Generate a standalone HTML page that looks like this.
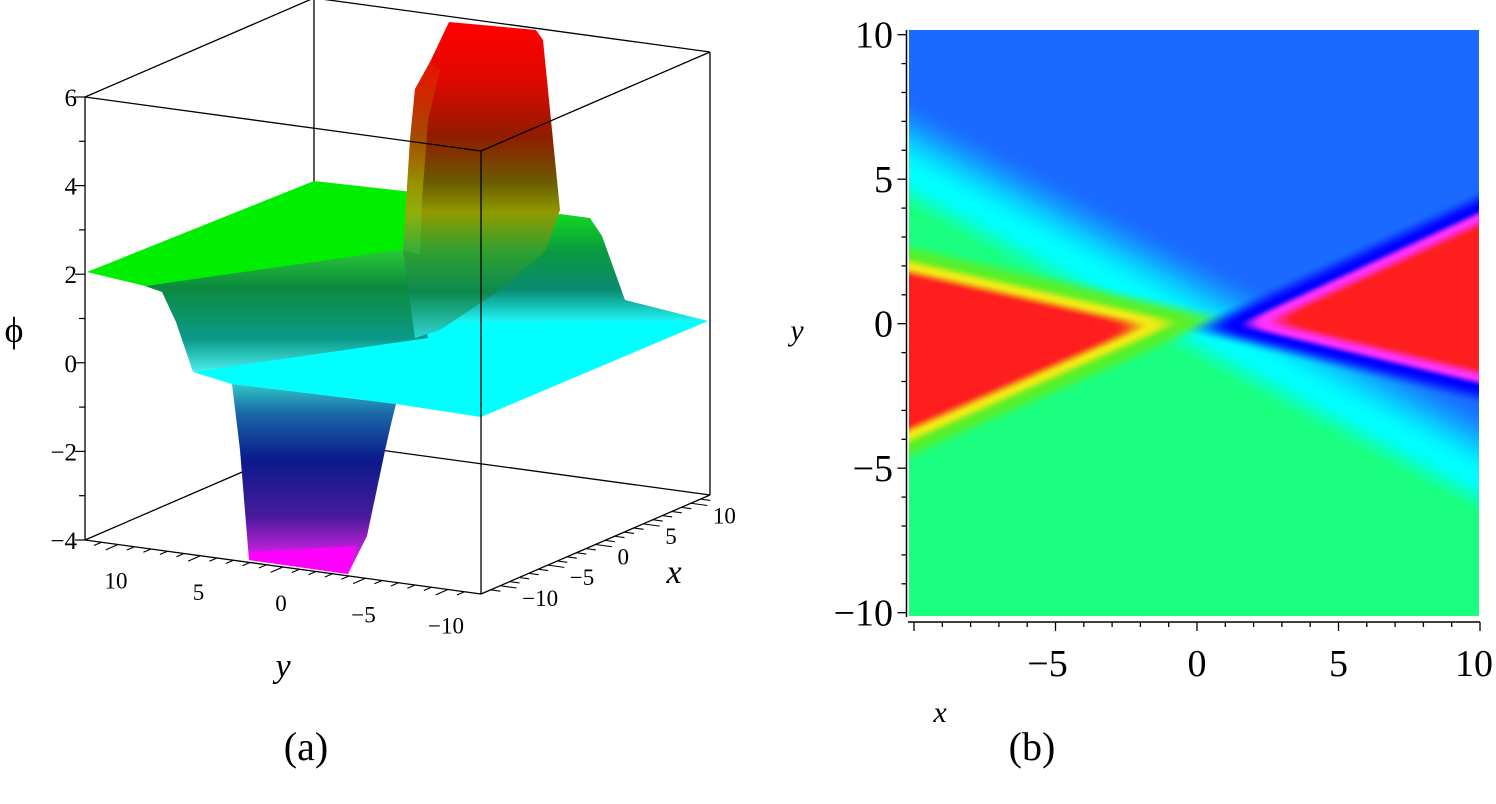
<!DOCTYPE html>
<html><head><meta charset="utf-8"><style>
html,body{margin:0;padding:0;background:#fff;}
#wrap{position:relative;width:1496px;height:804px;overflow:hidden;background:#fff;font-family:"Liberation Serif",serif;}
svg{position:absolute;left:0;top:0;}
#heat{position:absolute;left:909px;top:30px;}
</style></head><body>
<div id="wrap">
<svg id="left" width="1496" height="804">
<defs>
<linearGradient id="gStep" gradientUnits="userSpaceOnUse" x1="0" y1="250" x2="0" y2="374">
<stop offset="0" stop-color="#28c838"/><stop offset="0.3" stop-color="#0c8a3c"/><stop offset="0.72" stop-color="#0b9a8a"/><stop offset="1" stop-color="#50f4f4"/></linearGradient>
<linearGradient id="gRight" gradientUnits="userSpaceOnUse" x1="0" y1="214" x2="0" y2="322">
<stop offset="0" stop-color="#10d820"/><stop offset="0.35" stop-color="#0a9a40"/><stop offset="0.7" stop-color="#0a8a70"/><stop offset="1" stop-color="#20f8f8"/></linearGradient>
<linearGradient id="gWell" gradientUnits="userSpaceOnUse" x1="0" y1="384" x2="0" y2="574">
<stop offset="0" stop-color="#30c8c8"/><stop offset="0.15" stop-color="#1a6aa8"/><stop offset="0.4" stop-color="#0a1a8a"/><stop offset="0.7" stop-color="#4a1a9c"/><stop offset="0.88" stop-color="#c020d8"/><stop offset="1" stop-color="#ff10ff"/></linearGradient>
<linearGradient id="gPeak" gradientUnits="userSpaceOnUse" x1="0" y1="22" x2="0" y2="340">
<stop offset="0" stop-color="#ff0000"/><stop offset="0.18" stop-color="#e00800"/><stop offset="0.36" stop-color="#901c00"/><stop offset="0.5" stop-color="#6a5a00"/><stop offset="0.6" stop-color="#909a00"/><stop offset="0.72" stop-color="#30a030"/><stop offset="0.85" stop-color="#0c8a50"/><stop offset="1" stop-color="#30d8d8"/></linearGradient>
<linearGradient id="gPeakL" gradientUnits="userSpaceOnUse" x1="0" y1="60" x2="0" y2="250">
<stop offset="0" stop-color="#e02000"/><stop offset="0.4" stop-color="#c08000"/><stop offset="0.65" stop-color="#d0d000"/><stop offset="1" stop-color="#40c040"/></linearGradient>
</defs>
<g id="backbox"></g>
<g id="surface">
<polygon fill="#00ffff" points="193,372 232,384 396,404 481,417 708,321 420,320 410,339"/>
<polygon fill="url(#gRight)" points="430,255 560,214 590,218 602,236 625,300 708,321 420,322"/>
<polygon fill="#00ee00" points="87,272 314,181 412,192 408,250 145,286"/>
<polygon fill="url(#gStep)" points="145,286 412,248 428,338 193,372 176,322 162,292"/>
<polygon fill="url(#gWell)" points="232,384 396,404 392,420 386,446 367,536 348,574 249,560 240,450"/>
<polygon fill="#ff00ff" points="249,552 356,546 348,574 249,560"/>
<polygon fill="url(#gPeak)" points="449,22 536,30 543,40 552,130 560,210 546,250 500,290 440,330 415,338 403,250 410,140 415,89 430,62"/>
<polygon fill="url(#gPeakL)" opacity="0.45" points="403,250 410,140 415,89 430,62 440,70 428,120 422,200 420,255"/>
</g>
<g id="frontbox"></g>
<g id="axes3d"></g>
<text x="14" y="342" font-size="36" text-anchor="middle">ϕ</text>
<text x="283" y="677" font-size="34" font-style="italic" text-anchor="middle">y</text>
<text x="674" y="583" font-size="34" font-style="italic" text-anchor="middle">x</text>
<text x="306" y="760" font-size="40" text-anchor="middle">(a)</text>
<text x="1032" y="760" font-size="40" text-anchor="middle">(b)</text>
<g id="axes2d"></g>
<text x="940" y="722" font-size="30" font-style="italic" text-anchor="middle">x</text>
<text x="797" y="340" font-size="30" font-style="italic" text-anchor="middle">y</text>
</svg>
<canvas id="heat" width="570" height="586"></canvas>
</div>
<script>
// ---- 3D panel data ----
const xRange3d = [-12, 12];
const yRange3d = [-12, 12];
const zRange3d = [-4, 6];
const zTicks3d = [-4, -2, 0, 2, 4, 6];
const xTicks3d = [-10, -5, 0, 5, 10];
const yTicks3d = [-10, -5, 0, 5, 10];
// ---- density panel data ----
const xTicks2d = [-5, 0, 5, 10];
const yTicks2d = [-10, -5, 0, 5, 10];
const diagYAtEnds = [5.1, -5.4];        // cyan ridge y at x=-10 and x=10
const leftApex = [-1.2, 0];
const leftEdgeYAtMinX = [1.94, -3.8];   // upper / lower wedge edges at x=-10
const rightApex = [1.9, 0];
const rightEdgeYAtMaxX = [3.68, -1.9];  // upper / lower wedge edges at x=10

const NS = 'http://www.w3.org/2000/svg';
function mk(tag, attrs, parent) {
  const e = document.createElementNS(NS, tag);
  for (const k in attrs) e.setAttribute(k, attrs[k]);
  parent.appendChild(e); return e;
}
function minus(v) { return v < 0 ? '\u2212' + Math.abs(v) : String(v); }

const O = [397.5, 340.3], EX = [9.54, -4.125], EY = [-16.5, -2.25], EZ = [0, -44.3];
function P(x, y, z) { return [O[0] + x * EX[0] + y * EY[0] + z * EZ[0], O[1] + x * EX[1] + y * EY[1] + z * EZ[1]]; }

const back = document.getElementById('backbox');
const front = document.getElementById('frontbox');
const [x0, x1] = xRange3d, [y0, y1] = yRange3d, [z0, z1] = zRange3d;
function edge(a, b, parent, name) {
  const p = P(...a), q = P(...b);
  const l = mk('line', { x1: p[0], y1: p[1], x2: q[0], y2: q[1], stroke: '#000', 'stroke-width': 1.3 }, parent);
  
  
}
edge([x1, y1, z0], [x1, y1, z1], back, 'box-edge-back-vertical');
edge([x1, y1, z0], [x1, y0, z0], back, 'box-edge-back-bottom');
edge([x1, y1, z0], [x0, y1, z0], back, 'box-edge-left-bottom');
edge([x0, y1, z1], [x1, y1, z1], front, 'box-edge-top-left');
edge([x1, y1, z1], [x1, y0, z1], front, 'box-edge-top-back');
edge([x1, y0, z1], [x0, y0, z1], front, 'box-edge-top-right');
edge([x0, y0, z1], [x0, y1, z1], front, 'box-edge-top-front');
edge([x0, y1, z0], [x0, y1, z1], front, 'z-axis-line');
edge([x0, y0, z0], [x0, y0, z1], front, 'box-edge-front-vertical');
edge([x1, y0, z0], [x1, y0, z1], front, 'box-edge-right-vertical');
edge([x0, y1, z0], [x0, y0, z0], front, 'y-axis-line-3d');
edge([x0, y0, z0], [x1, y0, z0], front, 'x-axis-line-3d');

const ax3 = document.getElementById('axes3d');
for (let z = z0; z <= z1; z++) {
  const p = P(x0, y1, z);
  const major = zTicks3d.includes(z);
  mk('line', { x1: p[0] - (major ? 10 : 6), y1: p[1], x2: p[0], y2: p[1], stroke: '#000', 'stroke-width': 1.2 }, ax3);
}
zTicks3d.forEach(z => {
  const p = P(x0, y1, z);
  const t = mk('text', { x: p[0] - 8, y: p[1] + 9, 'font-size': 25, 'text-anchor': 'end' }, ax3);
  t.textContent = minus(z);
  
  
});
for (let y = -11; y <= 11; y++) {
  const p = P(x0, y, z0);
  const major = y % 5 === 0;
  const L = major ? 1.3 : 0.8;
  mk('line', { x1: p[0], y1: p[1], x2: p[0] - EX[0] * L, y2: p[1] - EX[1] * L, stroke: '#000', 'stroke-width': 1.1 }, ax3);
}
yTicks3d.forEach(y => {
  const p = P(x0, y, z0);
  const t = mk('text', { x: p[0] - 2, y: p[1] + 44, 'font-size': 23, 'text-anchor': 'middle' }, ax3);
  t.textContent = minus(y);
  
  
});
for (let x = -11; x <= 11; x++) {
  const p = P(x, y0, z0);
  const major = x % 5 === 0;
  const L = major ? 1.0 : 0.6;
  mk('line', { x1: p[0], y1: p[1], x2: p[0] - EY[0] * L, y2: p[1] - EY[1] * L, stroke: '#000', 'stroke-width': 1.1 }, ax3);
}
xTicks3d.forEach(x => {
  const p = P(x, y0, z0);
  const t = mk('text', { x: p[0] + 22, y: p[1] + 20, 'font-size': 23, 'text-anchor': 'start' }, ax3);
  t.textContent = minus(x);
  
  
});

// ---- density panel axes ----
function xS(u) { return 914 + (u + 10) * 28.3; }
function yS(v) { return 323.7 - v * 28.9; }
const ax2 = document.getElementById('axes2d');
mk('line', { x1: 906.5, y1: 30, x2: 906.5, y2: 617, stroke: '#000', 'stroke-width': 1.5 }, ax2);
mk('line', { x1: 908, y1: 622, x2: 1480, y2: 622, stroke: '#000', 'stroke-width': 1.5 }, ax2);
for (let v = -10; v <= 10; v++) {
  const major = v % 5 === 0;
  mk('line', { x1: 906.5 - (major ? 9 : 5), y1: yS(v), x2: 906.5, y2: yS(v), stroke: '#000', 'stroke-width': 1.3 }, ax2);
  const u = v;
  mk('line', { x1: xS(u), y1: 622, x2: xS(u), y2: 622 + (major ? 9 : 5), stroke: '#000', 'stroke-width': 1.3 }, ax2);
}
yTicks2d.forEach(v => {
  const t = mk('text', { x: 893, y: yS(v) + 13, 'font-size': 38, 'text-anchor': 'end' }, ax2);
  t.textContent = minus(v);
  
  
});
xTicks2d.forEach(u => {
  const cx = Math.min(xS(u) - (u < 0 ? 8 : 0), 1474);
  const t = mk('text', { x: cx, y: 676, 'font-size': 38, 'text-anchor': 'middle' }, ax2);
  t.textContent = minus(u);
  
  
});

// ---- density heatmap ----
(function () {
  const c = document.getElementById('heat'), ctx = c.getContext('2d');
  const W = c.width, H = c.height, img = ctx.createImageData(W, H);
  const BLUE = [26, 106, 255], GREEN = [26, 255, 128], CYAN = [0, 255, 255], RED = [255, 30, 30],
    YEL = [240, 235, 20], YG = [90, 240, 40], MAG = [255, 50, 255], DBLUE = [0, 0, 255];
  const mix = (a, b, t) => [a[0] + (b[0] - a[0]) * t, a[1] + (b[1] - a[1]) * t, a[2] + (b[2] - a[2]) * t];
  const cl = t => Math.max(0, Math.min(1, t));
  const sm = t => { t = cl(t); return t * t * (3 - 2 * t); };
  const softMin = (a, b, k) => -k * Math.log(Math.exp(-a / k) + Math.exp(-b / k));
  function lineDist(ax, ay, bx, by, u, v) {
    const dx = bx - ax, dy = by - ay, L = Math.hypot(dx, dy);
    const yl = ay + (u - ax) * dy / dx;
    return (yl - v) * Math.abs(dx) / L;
  }
  for (let j = 0; j < H; j++) {
    const v = (323.7 - (30 + j + 0.5)) / 28.9;
    for (let i = 0; i < W; i++) {
      const u = (909 + i + 0.5 - 914) / 28.3 - 10;
      const d = -lineDist(-10, diagYAtEnds[0], 10, diagYAtEnds[1], u, v);
      let col = d < 0 ? mix(CYAN, GREEN, sm(-d / 1.2)) : mix(CYAN, BLUE, sm(d / 2.4));
      const su = lineDist(-10, leftEdgeYAtMinX[0], leftApex[0], leftApex[1], u, v);
      const sl = -lineDist(-10, leftEdgeYAtMinX[1], leftApex[0], leftApex[1], u, v);
      const s1 = softMin(su, sl, 0.2);
      if (s1 > -0.9) {
        if (s1 >= 0.4) col = RED;
        else if (s1 >= 0) col = mix(YEL, RED, sm(s1 / 0.4));
        else if (s1 > -0.35) col = mix(YEL, YG, sm(-s1 / 0.35));
        else col = mix(YG, col, sm((-s1 - 0.35) / 0.55));
      }
      const ru = lineDist(rightApex[0], rightApex[1], 10, rightEdgeYAtMaxX[0], u, v);
      const rl = -lineDist(rightApex[0], rightApex[1], 10, rightEdgeYAtMaxX[1], u, v);
      const s2 = softMin(ru, rl, 0.2);
      if (s2 > -1.0) {
        if (s2 >= 0.4) col = RED;
        else if (s2 >= 0) col = mix(MAG, RED, sm(s2 / 0.4));
        else if (s2 > -0.3) col = mix(MAG, DBLUE, sm(-s2 / 0.3));
        else col = mix(DBLUE, col, sm((-s2 - 0.3) / 0.6));
      }
      const k = (j * W + i) * 4;
      img.data[k] = col[0]; img.data[k + 1] = col[1]; img.data[k + 2] = col[2]; img.data[k + 3] = 255;
    }
  }
  ctx.putImageData(img, 0, 0);
})();
</script>
</body></html>
